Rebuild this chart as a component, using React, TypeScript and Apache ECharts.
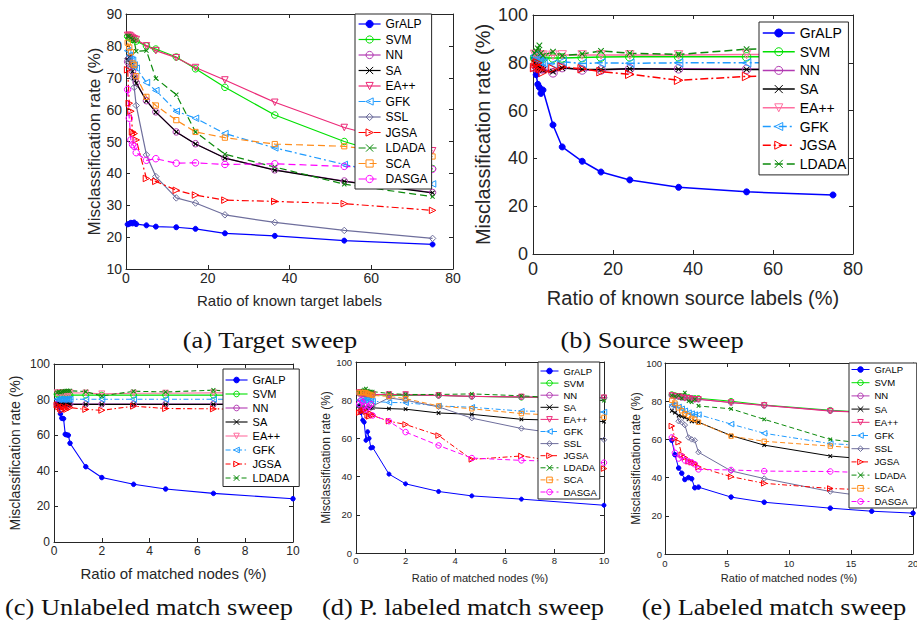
import React, { useEffect, useRef } from 'react';
import * as echarts from 'echarts';

const FULL = ['GrALP', 'SVM', 'NN', 'SA', 'EA++', 'GFK', 'SSL', 'JGSA', 'LDADA', 'SCA', 'DASGA'];
const SHORT = ['GrALP', 'SVM', 'NN', 'SA', 'EA++', 'GFK', 'JGSA', 'LDADA'];

// (a) Target sweep
const X_A = [0.4, 0.8, 1.2, 1.6, 2, 2.5, 5, 7.3, 12.3, 17, 24.2, 36.4, 53.4, 75];
const A_GrALP = [24, 24.2, 24.5, 24.3, 24.6, 24.1, 23.7, 23.3, 23.1, 22.6, 21.2, 20.4, 18.9, 17.7];
const A_SVM = [83, 82.5, 82.5, 82, 82, 81.5, 80, 79, 76.5, 72.8, 67, 58.3, 50, 41.5];
const A_NN = [75, 76, 73.5, 72, 70.5, 68.5, 62.8, 59.3, 53, 49.3, 44.8, 41.1, 37.6, 34];
const A_SA = [75.5, 76.5, 74, 72, 70, 68.3, 62.8, 59.2, 53, 49.2, 44.8, 41, 37.5, 33.9];
const A_EA = [83.3, 83.3, 83, 82.5, 82.2, 82, 80, 78.5, 76.3, 73.2, 69.3, 62.3, 54.4, 47.1];
const A_GFK = [78.5, 77, 75.8, 75.5, 74, 73, 68.5, 66, 59.5, 57.3, 52.5, 48, 42.8, 36.7];
const A_SSL = [76, 75, 73, 70, 67, 61.3, 45.8, 39, 32.3, 30.7, 27, 24.6, 22.1, 19.6];
const A_JGSA = [72.5, 62, 59.5, 53, 52.5, 50.5, 38.4, 37.5, 34.7, 33.2, 31.6, 31.2, 30.5, 28.4];
const A_LDADA = [83, 83, 82.5, 82, 81.5, 78.3, 78.5, 69.8, 64.7, 53, 46, 42, 36.6, 32.7];
const A_SCA = [81, 79.5, 78, 74.5, 74, 70.5, 64, 61.3, 56.7, 53, 51.2, 49.2, 48.5, 45.3];
const A_DASGA = [66.3, 57.3, 50.5, 49, 48.5, 46.5, 44.1, 44.6, 43.2, 43.3, 42.8, 43, 42.2, 41.3];

// (b) Source sweep
const X_B = [0.4, 0.8, 1.2, 1.6, 2, 2.5, 5, 7.3, 12.3, 17, 24.2, 36.4, 53.4, 75];
const B_GrALP = [82, 75, 71, 69.7, 67.2, 68.6, 54, 44.8, 38.8, 34.3, 31, 27.9, 26, 24.7];
const B_SVM = [82, 81.5, 81.5, 82, 82, 82, 82, 82, 82.2, 82.4, 82.5, 82.5, 82.5, 82.5];
const B_NN = [78, 78.5, 78, 78, 77.5, 77.5, 75.8, 78, 77, 77, 77.5, 77.5, 77.3, 77.3];
const B_SA = [80, 79, 78.5, 78, 77.5, 77, 76.3, 77.8, 77.3, 77.2, 77.5, 77.3, 77.2, 77.2];
const B_EA = [83.5, 83.3, 83.3, 83.2, 83.2, 83.2, 83.2, 83.3, 83.3, 83.3, 83.3, 83.3, 83.5, 83.5];
const B_GFK = [83, 81.5, 81, 80.5, 80.5, 80, 79.5, 80.5, 79.7, 80, 79.8, 80, 80, 80];
const B_JGSA = [78, 79.5, 80, 78, 77.5, 76, 77.5, 78.3, 77.5, 76.3, 75.2, 72.7, 74.3, 74.5];
const B_LDADA = [84, 85, 86, 87.3, 84, 83, 84.7, 83, 83.7, 85, 84, 83.5, 85.7, 86];

// (c) Unlabeled match sweep
const X_C = [0.13, 0.2, 0.27, 0.33, 0.4, 0.47, 0.53, 0.6, 0.67, 1.33, 2, 3.33, 4.67, 6.67, 10];
const C_GrALP = [78, 76, 72, 69.5, 69.3, 60.5, 60.2, 60, 55.5, 42.3, 36.2, 32.4, 29.8, 27.3, 24.3];
const C_SVM = [83, 82.5, 82.5, 82.5, 82.5, 82.5, 82.5, 82.5, 82.5, 82.5, 82.5, 82.5, 82.5, 82.5, 82.3];
const C_NN = [77.5, 77.6, 77.5, 77.5, 77.6, 77.5, 77.5, 77.5, 77.5, 77.5, 77.5, 77.5, 77.5, 77.5, 77.5];
const C_SA = [77.3, 77.2, 77.3, 77.3, 77.2, 77.3, 77.3, 77.3, 77.3, 77.3, 77.3, 77.3, 77.3, 77.3, 77.3];
const C_EA = [83.8, 83.8, 83.8, 83.8, 83.8, 83.8, 83.8, 83.8, 83.8, 83.7, 83.2, 83.6, 83.6, 83.8, 84];
const C_GFK = [80.2, 80, 80.2, 80.2, 80, 80.2, 80.2, 80.2, 80.2, 80.2, 80.2, 80.2, 80.2, 80.2, 80.2];
const C_JGSA = [77, 76, 75, 74, 76, 75, 74.5, 76, 75.5, 74.5, 74, 76.3, 75, 74.8, 74.3];
const C_LDADA = [84, 84.5, 84, 84.5, 84.7, 84.8, 85, 85, 85, 84.5, 82, 84.7, 84.3, 85.3, 82.5];

// (d) P. labeled match sweep
const X_D = [0.13, 0.2, 0.27, 0.33, 0.4, 0.47, 0.53, 0.6, 0.67, 1.33, 2, 3.33, 4.67, 6.67, 10];
const D_GrALP = [77, 73.5, 69.5, 68.5, 59, 63.5, 60, 55, 55.3, 41.3, 36.2, 32.2, 29.9, 28.2, 25];
const D_SVM = [84, 84, 83.5, 83.5, 83.5, 83, 83, 83, 83, 82.5, 82.5, 82.5, 82, 81.5, 81.3];
const D_NN = [83.5, 83.5, 83.5, 83, 83, 83, 83, 83, 83, 82.8, 82.8, 82.5, 82, 81.7, 81.3];
const D_SA = [77, 76.5, 76.3, 76, 76, 76, 76, 76, 76, 75.6, 75.3, 73.3, 72.6, 70, 68.8];
const D_EA = [84, 84, 83.5, 83.5, 83, 83, 83, 83, 83, 83, 83, 82.5, 82, 81.7, 81.3];
const D_GFK = [80, 79.5, 80, 80, 80, 80.5, 80, 80, 79.5, 78.8, 78.7, 77, 76.3, 74.3, 73.8];
const D_SSL = [77, 76, 76, 75, 77, 76, 76.5, 76, 77, 81.2, 80, 76.5, 70.6, 65.2, 59.3];
const D_JGSA = [73.5, 74, 74.5, 75, 74, 72, 71.5, 73, 72, 69, 67.3, 61.5, 49, 50.8, 44.2];
const D_LDADA = [84, 84, 85, 85.5, 86, 85, 84.5, 84.5, 84.5, 83.5, 83, 83, 83.3, 82.3, 79.8];
const D_SCA = [84, 84, 84, 84, 84, 83.5, 83, 83, 82.5, 82, 80.8, 77, 75.5, 73, 71];
const D_DASGA = [78, 80, 79, 77, 75, 76, 77, 78, 72, 69, 63.3, 56.3, 49.7, 48.5, 47.3];

// (e) Labeled match sweep
const X_E = [0.55, 0.8, 1.1, 1.35, 1.6, 1.9, 2.15, 2.4, 2.7, 5.33, 8, 13.33, 16.67, 20];
const E_GrALP = [59.5, 52, 45, 42.3, 39, 40, 39.4, 34.7, 35, 29.8, 27.1, 24, 22.4, 21.4];
const E_SVM = [83.5, 83, 82.5, 82.5, 82, 82, 81.5, 81.5, 81.5, 80, 78, 75.3, 74, 70];
const E_NN = [83, 82.5, 82.5, 82, 82, 81.5, 81.5, 81, 81, 79.3, 77.8, 75, 74, 71.2];
const E_SA = [75, 74, 72.5, 72, 71.5, 70.5, 69.5, 69.5, 69, 62, 57, 51.3, 49.5, 47];
const E_EA = [83, 82.5, 82.5, 82, 81.5, 81.5, 81, 81, 81, 79.3, 77.8, 74.8, 74, 71.3];
const E_GFK = [78, 78, 77, 76, 75, 74, 73.5, 73, 73, 68, 63.2, 57.8, 56.5, 54.2];
const E_SSL = [77, 78, 69.5, 69, 67.5, 61, 60, 59.5, 53.3, 43.5, 39.5, 32.7, 29.8, 28.5];
const E_JGSA = [67, 60.5, 58.5, 52, 50.5, 48.5, 48, 47.5, 45.5, 40.5, 37, 34.3, 33.5, 32.6];
const E_LDADA = [83, 82.5, 83, 81.5, 84.5, 80, 79.5, 81, 77.5, 76, 70.5, 60, 57.5, 50.5];
const E_SCA = [80.5, 79, 76.5, 75, 73.5, 72.5, 71, 70.5, 69, 61.7, 59, 56.5, 55, 52.8];
const E_DASGA = [61, 53, 50, 51, 49, 48.5, 48, 47, 44.3, 44, 43.4, 43.2, 42.5, 42.1];

const X_PATH = 'path://M0,0L10,10M0,10L10,0';
const STY: Record<string, { c: string; s: string; r: number; d: string; f?: boolean }> = {
  GrALP: { c: '#0000ff', s: 'circle', r: 0, d: 'solid', f: true },
  SVM: { c: '#00e000', s: 'circle', r: 0, d: 'solid' },
  NN: { c: '#b23ab2', s: 'circle', r: 0, d: 'solid' },
  SA: { c: '#000000', s: X_PATH, r: 0, d: 'solid' },
  'EA++': { c: '#ec2a78', s: 'triangle', r: 180, d: 'solid' },
  GFK: { c: '#1f9bff', s: 'triangle', r: 90, d: 'dashdot' },
  SSL: { c: '#6e6e9c', s: 'diamond', r: 0, d: 'solid' },
  JGSA: { c: '#ff0000', s: 'triangle', r: -90, d: 'dashdot' },
  LDADA: { c: '#0b8a0b', s: X_PATH, r: 0, d: 'dashed' },
  SCA: { c: '#ff8c1a', s: 'rect', r: 0, d: 'dashed' },
  DASGA: { c: '#ff00ff', s: 'circle', r: 0, d: 'dashed' },
};

const YNAME = 'Misclassification rate (%)';
const AX = '#262626';

const SUBS: any[] = [
  {
    key: 'a', x: X_A, methods: FULL,
    data: { GrALP: A_GrALP, SVM: A_SVM, NN: A_NN, SA: A_SA, 'EA++': A_EA, GFK: A_GFK, SSL: A_SSL, JGSA: A_JGSA, LDADA: A_LDADA, SCA: A_SCA, DASGA: A_DASGA },
    grid: { left: 126, top: 14, width: 327, height: 255 }, xr: [0, 80, 20], yr: [10, 90, 10],
    tick: 14, xm: 2, ym: 4, xname: 'Ratio of known target labels', xns: 15, xgap: 24, yns: 17, ygap: 23,
    leg: { left: 355, top: 14, fs: 12, gap: 3.5, w: 22, h: 9, pad: [4, 4, 4, 3] },
    sym: 6.5, gsym: 5, lw: 1.2, dash: [7, 4], dashdot: [7, 3, 2, 3], ea: '#ec2a78',
    cap: '(a) Target sweep', capX: 270, capY: 340,
  },
  {
    key: 'b', x: X_B, methods: SHORT,
    data: { GrALP: B_GrALP, SVM: B_SVM, NN: B_NN, SA: B_SA, 'EA++': B_EA, GFK: B_GFK, JGSA: B_JGSA, LDADA: B_LDADA },
    grid: { left: 533, top: 15, width: 320, height: 239 }, xr: [0, 80, 20], yr: [0, 100, 20],
    tick: 18, xm: 6, ym: 5, xname: 'Ratio of known source labels (%)', xns: 20, xgap: 34, yns: 20, ygap: 40,
    leg: { left: 759, top: 22, fs: 14, gap: 4.7, w: 32, h: 10, pad: [4, 2, 4, 3] },
    sym: 8.5, gsym: 6, lw: 1.5, dash: [8, 4], dashdot: [8, 3, 2, 3], ea: '#ff6fa0',
    cap: '(b) Source sweep', capX: 652, capY: 340,
  },
  {
    key: 'c', x: X_C, methods: SHORT,
    data: { GrALP: C_GrALP, SVM: C_SVM, NN: C_NN, SA: C_SA, 'EA++': C_EA, GFK: C_GFK, JGSA: C_JGSA, LDADA: C_LDADA },
    grid: { left: 54, top: 364, width: 239, height: 178 }, xr: [0, 10, 2], yr: [0, 100, 20],
    tick: 12, xm: 3, ym: 4, xname: 'Ratio of matched nodes (%)', xns: 15, xgap: 24, yns: 14, ygap: 32,
    leg: { left: 223, top: 369, fs: 11, gap: 3, w: 22, h: 7, pad: [5.5, 10, 3, 2] },
    sym: 6, gsym: 4.5, lw: 1.1, dash: [5, 3], dashdot: [5, 2.5, 1.5, 2.5], ea: '#ff6fa0',
    cap: '(c) Unlabeled match sweep', capX: 149, capY: 607,
  },
  {
    key: 'd', x: X_D, methods: FULL,
    data: { GrALP: D_GrALP, SVM: D_SVM, NN: D_NN, SA: D_SA, 'EA++': D_EA, GFK: D_GFK, SSL: D_SSL, JGSA: D_JGSA, LDADA: D_LDADA, SCA: D_SCA, DASGA: D_DASGA },
    grid: { left: 356, top: 362, width: 248, height: 191 }, xr: [0, 10, 2], yr: [0, 100, 20],
    tick: 9.5, xm: 2, ym: 4, xname: 'Ratio of matched nodes (%)', xns: 11, xgap: 19, yns: 12, ygap: 24,
    leg: { left: 538, top: 362, fs: 9.5, gap: 2.1, w: 18, h: 7, pad: [4, 3, 2, 2] },
    sym: 5.5, gsym: 4, lw: 1, dash: [5, 3], dashdot: [5, 2.5, 1.5, 2.5], ea: '#ec2a78',
    cap: '(d) P. labeled match sweep', capX: 463, capY: 607,
  },
  {
    key: 'e', x: X_E, methods: FULL,
    data: { GrALP: E_GrALP, SVM: E_SVM, NN: E_NN, SA: E_SA, 'EA++': E_EA, GFK: E_GFK, SSL: E_SSL, JGSA: E_JGSA, LDADA: E_LDADA, SCA: E_SCA, DASGA: E_DASGA },
    grid: { left: 665, top: 363, width: 248, height: 191 }, xr: [0, 20, 5], yr: [0, 100, 20],
    tick: 9.5, xm: 4, ym: 3, xname: 'Ratio of matched nodes (%)', xns: 11, xgap: 18, yns: 12, ygap: 23,
    leg: { left: 849, top: 363, fs: 9.5, gap: 3.2, w: 18, h: 7, pad: [1.5, 9, 1.5, 2] },
    sym: 5.5, gsym: 4.5, lw: 1, dash: [5, 3], dashdot: [5, 2.5, 1.5, 2.5], ea: '#ec2a78',
    cap: '(e) Labeled match sweep', capX: 774, capY: 607,
  },
];

function buildOption() {
  const grid: any[] = [];
  const xAxis: any[] = [];
  const yAxis: any[] = [];
  const legend: any[] = [];
  const series: any[] = [];
  const graphic: any[] = [];
  SUBS.forEach((p, i) => {
    grid.push({ ...p.grid, containLabel: false, outerBoundsMode: 'none', show: true, backgroundColor: '#fff', borderWidth: 0 });
    const base = (pos: string, isX: boolean, labels: boolean) => {
      const r = isX ? p.xr : p.yr;
      return {
        type: 'value', gridIndex: i, position: pos, min: r[0], max: r[1], interval: r[2],
        axisLine: { show: true, onZero: false, lineStyle: { color: AX, width: 1 } },
        axisTick: { show: true, inside: true, length: 4, lineStyle: { color: AX, width: 1 } },
        axisLabel: { show: labels, fontSize: p.tick, color: AX, margin: isX ? p.xm : p.ym, fontFamily: 'Liberation Sans' },
        splitLine: { show: false },
      };
    };
    xAxis.push({
      ...base('bottom', true, true), name: p.xname, nameLocation: 'middle', nameGap: p.xgap,
      nameTextStyle: { fontSize: p.xns, color: AX, fontFamily: 'Liberation Sans' },
    });
    xAxis.push(base('top', true, false));
    yAxis.push({
      ...base('left', false, true), name: YNAME, nameLocation: 'middle', nameGap: p.ygap,
      nameTextStyle: { fontSize: p.yns, color: AX, fontFamily: 'Liberation Sans' },
    });
    yAxis.push(base('right', false, false));
    legend.push({
      show: true, orient: 'vertical', left: p.leg.left, top: p.leg.top, padding: p.leg.pad,
      itemGap: p.leg.gap, itemWidth: p.leg.w, itemHeight: p.leg.h, selectedMode: false,
      data: p.methods.map((m: string) => p.key + ':' + m),
      formatter: (n: string) => n.slice(2),
      textStyle: { fontSize: p.leg.fs, color: '#000', fontFamily: 'Liberation Sans' },
      backgroundColor: '#fff', borderColor: AX, borderWidth: 1, borderRadius: 0,
      itemStyle: { borderWidth: 1 }, lineStyle: { width: p.lw },
    });
    p.methods.forEach((m: string) => {
      const st = STY[m];
      const color = m === 'EA++' ? p.ea : st.c;
      const dash = st.d === 'dashed' ? p.dash : st.d === 'dashdot' ? p.dashdot : 'solid';
      const size = m === 'GrALP' ? p.gsym : st.s === X_PATH ? p.sym * 0.65 : st.s === 'rect' ? p.sym * 0.8 : p.sym;
      series.push({
        type: 'line', name: p.key + ':' + m, xAxisIndex: 2 * i, yAxisIndex: 2 * i,
        data: p.x.map((xv: number, j: number) => [xv, p.data[m][j]]),
        symbol: st.s, symbolSize: size, symbolRotate: st.r, showSymbol: true,
        lineStyle: { color, width: p.lw, type: dash },
        itemStyle: { color: st.f ? color : 'rgba(255,255,255,0)', borderColor: color, borderWidth: 1 },
        emphasis: { disabled: true }, silent: true, clip: false,
      });
    });
    graphic.push({
      type: 'text', x: p.capX, y: p.capY, scaleX: 1.1,
      style: {
        text: p.cap, fontSize: 24, fontFamily: 'Liberation Serif', fill: '#111',
        textAlign: 'center', textVerticalAlign: 'middle', align: 'center', verticalAlign: 'middle',
      },
    });
  });
  return {
    animation: false,
    backgroundColor: '#fff',
    textStyle: { fontFamily: 'Liberation Sans' },
    grid, xAxis, yAxis, legend, series, graphic,
  };
}

export default function App() {
  const ref = useRef<HTMLDivElement>(null);
  useEffect(() => {
    if (!ref.current) return;
    const chart = echarts.init(ref.current, undefined, { renderer: 'svg' });
    chart.setOption(buildOption() as any);
    return () => chart.dispose();
  }, []);
  return (
    <div
      ref={ref}
      style={{ position: 'absolute', left: 0, top: 0, width: 917, height: 625, background: '#fff' }}
    />
  );
}
